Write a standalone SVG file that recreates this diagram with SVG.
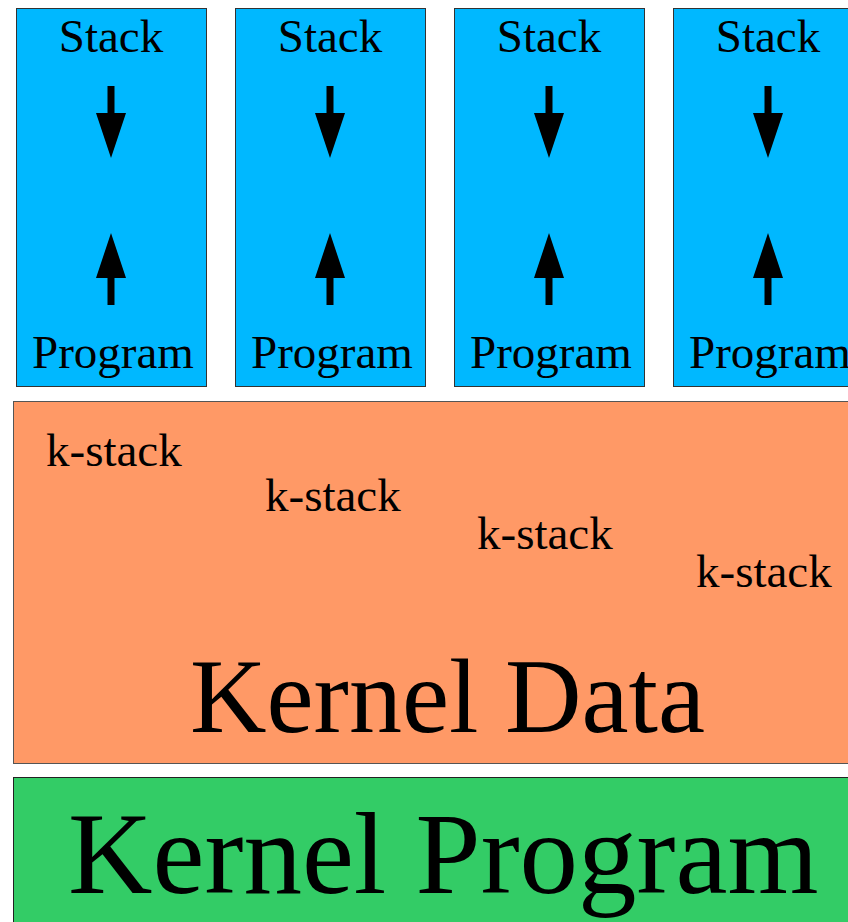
<svg xmlns="http://www.w3.org/2000/svg" width="848" height="922" viewBox="0 0 848 922">
<style>
.box{fill:#00B8FF;stroke:#333;stroke-width:1}
.t{font-family:"Liberation Serif","Times New Roman",serif;fill:#000}
.m{font-size:47px;text-anchor:middle}
.k{font-size:47px}
.arr{fill:#000}
</style>
<defs>
<g id="arrows">
<rect x="-3.5" y="86" width="7" height="30" class="arr"/>
<polygon points="-15,113 15,113 0,158" class="arr"/>
<rect x="-3.5" y="275" width="7" height="30" class="arr"/>
<polygon points="-15,278 15,278 0,233" class="arr"/>
</g>
</defs>
<rect width="848" height="922" fill="#fff"/>
<g id="proc1"><rect class="box" x="16.5" y="8.5" width="190" height="378"/><text class="t m" x="111" y="52">Stack</text><text class="t m" x="113" y="368">Program</text></g>
<g id="proc2"><rect class="box" x="235.5" y="8.5" width="190" height="378"/><text class="t m" x="330" y="52">Stack</text><text class="t m" x="332" y="368">Program</text></g>
<g id="proc3"><rect class="box" x="454.5" y="8.5" width="190" height="378"/><text class="t m" x="549" y="52">Stack</text><text class="t m" x="551" y="368">Program</text></g>
<g id="proc4"><rect class="box" x="673.5" y="8.5" width="190" height="378"/><text class="t m" x="768" y="52">Stack</text><text class="t m" x="770" y="368">Program</text></g>
<g id="connectors">
<use href="#arrows" x="111"/>
<use href="#arrows" x="330"/>
<use href="#arrows" x="549"/>
<use href="#arrows" x="768"/>
</g>
<g id="kernel-data">
<rect x="13.5" y="401.5" width="860" height="362" fill="#FF9966" stroke="#555" stroke-width="1"/>
<text class="t k" x="46" y="466">k-stack</text>
<text class="t k" x="265" y="511">k-stack</text>
<text class="t k" x="477" y="549">k-stack</text>
<text class="t k" x="696" y="587">k-stack</text>
<text class="t" x="190" y="732" font-size="106">Kernel Data</text>
</g>
<g id="kernel-program">
<rect x="13.5" y="777.5" width="860" height="160" fill="#33CC66" stroke="#222" stroke-width="1"/>
<text class="t" x="68" y="893" font-size="117">Kernel Program</text>
</g>
</svg>
